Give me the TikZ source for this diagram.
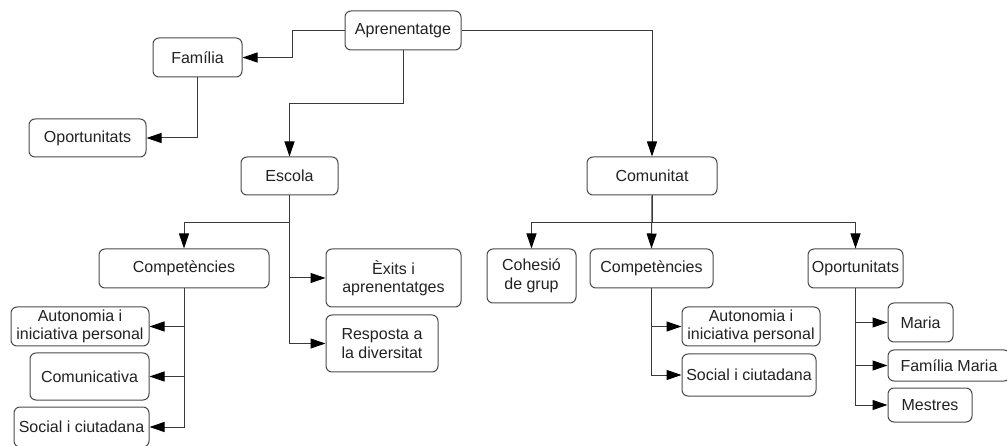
\documentclass[tikz,border=0pt]{standalone}
\usepackage{fontspec}
\setmainfont{Liberation Sans}
\usetikzlibrary{arrows.meta}
\definecolor{linec}{HTML}{3A3A3A}
\definecolor{boxc}{HTML}{4A4A4A}
\definecolor{textc}{HTML}{222222}
\begin{document}
\begin{tikzpicture}[x=1pt,y=-1pt,
  box/.style={draw=boxc,line width=1pt,rounded corners=6pt,fill=white,align=center,
    inner sep=0pt,text=textc,font=\fontsize{16}{18.5}\selectfont},
  arr/.style={draw=linec,line width=1pt,-{Triangle[length=15pt,width=10pt,color=black,fill=black]}}]
\path[use as bounding box] (0,0) rectangle (1007,446);
\begin{scope}
\clip (0,0) rectangle (1007,446);
\node[box,minimum width=116pt,minimum height=39pt] (apr) at (403,30.5) {Aprenentatge};
\node[box,minimum width=89pt,minimum height=39pt] (fam) at (197.5,57.5) {Família};
\node[box,minimum width=117pt,minimum height=38pt] (opl) at (87.5,138) {Oportunitats};
\node[box,minimum width=97pt,minimum height=38pt] (esc) at (289.5,176) {Escola};
\node[box,minimum width=130pt,minimum height=38pt] (com) at (652,176) {Comunitat};
\node[box,minimum width=170pt,minimum height=39pt] (cpl) at (184,268.5) {Competències};
\node[box,minimum width=135pt,minimum height=58pt] (exi) at (393.5,278) {Èxits i\\aprenentatges};
\node[box,minimum width=112pt,minimum height=57pt] (res) at (382,343.5) {Resposta a\\la diversitat};
\node[box,minimum width=138pt,minimum height=39pt] (aul) at (80,326.5) {Autonomia i\\iniciativa personal};
\node[box,minimum width=119pt,minimum height=47pt] (cmu) at (89.5,376.5) {Comunicativa};
\node[box,minimum width=135pt,minimum height=40pt] (sol) at (81.5,427) {Social i ciutadana};
\node[box,minimum width=89pt,minimum height=54pt] (coh) at (531.5,276) {Cohesió\\de grup};
\node[box,minimum width=123pt,minimum height=39pt] (cpr) at (651.5,268.5) {Competències};
\node[box,minimum width=95pt,minimum height=39pt] (opr) at (855.5,268.5) {Oportunitats};
\node[box,minimum width=138pt,minimum height=39pt] (aur) at (751,326.5) {Autonomia i\\iniciativa personal};
\node[box,minimum width=134pt,minimum height=42pt] (sor) at (749,375) {Social i ciutadana};
\node[box,minimum width=65pt,minimum height=39pt] (mar) at (920.5,322.5) {Maria};
\node[box,minimum width=122pt,minimum height=31pt] (fmm) at (949,365.5) {Família Maria};
\node[box,minimum width=84pt,minimum height=34pt] (mes) at (930,405) {Mestres};

\draw[arr] (apr.west) -- ++(-52,0) |- (fam.east);
\draw[arr] (fam.south) |- (opl.east);
\draw[arr] (apr.south) -- ++(0,53) -| (esc.north);
\draw[arr] (apr.east) -| (com.north);
\draw[arr] (esc.south) -- ++(0,27) -| (cpl.north);
\draw[arr] (esc.south) |- (exi.west);
\draw[arr] (esc.south) |- (res.west);
\draw[arr] (cpl.south) |- (aul.east);
\draw[arr] (cpl.south) |- (cmu.east);
\draw[arr] (cpl.south) |- (sol.east);
\draw[arr] (com.south) -- ++(0,27) -| (coh.north);
\draw[arr] (com.south) -- (cpr.north);
\draw[arr] (com.south) -- ++(0,27) -| (opr.north);
\draw[arr] (cpr.south) |- (aur.west);
\draw[arr] (cpr.south) |- (sor.west);
\draw[arr] (opr.south) |- (mar.west);
\draw[arr] (opr.south) |- (fmm.west);
\draw[arr] (opr.south) |- (mes.west);
\end{scope}
\end{tikzpicture}
\end{document}
